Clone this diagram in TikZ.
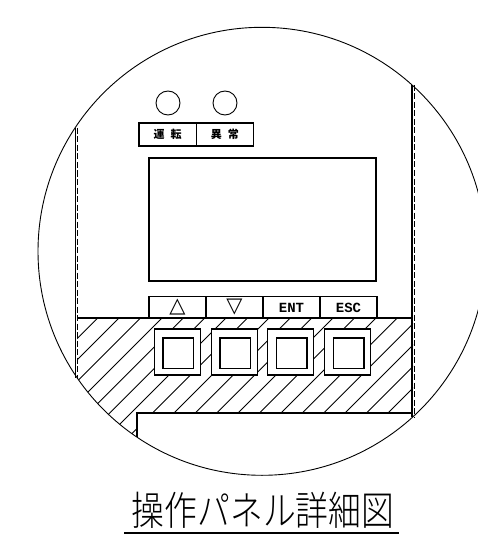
\documentclass[tikz,border=0pt]{standalone}
\usepackage{fontspec}
\usetikzlibrary{positioning}
\newfontfamily\cjkthin[FakeStretch=0.82,UprightFont=* Light]{Noto Sans CJK JP}
\newfontfamily\cjk{Noto Sans CJK JP}
\newfontfamily\symb{DejaVu Sans}
\setmonofont{Liberation Mono}

\begin{document}
\begin{tikzpicture}[
        x=1pt, y=-1pt, line width=1.1pt,
        dashwall/.style = {line width=1pt, dash pattern=on 6pt off 2.5pt},
        lamp/.style   = {draw, circle, inner sep=0pt, minimum size=24pt, line width=.9pt},
        tag/.style    = {draw, inner sep=0pt, outer sep=0pt, minimum height=23pt, minimum width=57.3pt, font=\cjk\fontsize{11}{11}\selectfont\bfseries},
        key/.style    = {draw, inner sep=0pt, outer sep=0pt, minimum height=21.5pt, minimum width=57pt},
        btn/.style    = {draw, fill=white, inner sep=0pt, minimum size=46pt, line width=1.2pt},
        btncap/.style = {draw, inner sep=0pt, minimum size=30.5pt, line width=1.5pt},
        title/.style  = {inner sep=0pt, font=\cjkthin\fontsize{40}{40}\selectfont}]

    \useasboundingbox (0,0) rectangle (477,540);

    % hatching of the lower panel
    \begin{scope}
        \clip (262,251.3) circle (224);
        \clip (77,318) rectangle (413,413) (77,413) rectangle (137,480);
        \foreach \value in {0,...,18}
            \draw[line width=.9pt] ({415.7+21.4*\value-50},50) -- ({415.7+21.4*\value-500},500);
    \end{scope}

    % outline and side walls
    \draw[line width=.9pt] (262,251.3) circle (224);
    \draw[line width=1.2pt] (75.7,128) -- (75.7,378);
    \draw[dashwall] (77.7,128) -- (77.7,378);
    \draw[line width=1.2pt] (412,85) -- (412,417);
    \draw[dashwall] (414,85) -- (414,417);
    \draw (137,436.5) -- (137,413) -- (413,413);
    \draw (77,318) -- (413,318);

    % lamps and their tags
    \node[lamp] (lamp1) at (168,103) {};
    \node[lamp] (lamp2) at (225,103) {};
    \node[tag] (tag1) at (167.6,134.5) {運\hspace{6pt}転};
    \node[tag, right=0pt of tag1] (tag2) {異\hspace{6pt}常};

    % display
    \node[draw, inner sep=0pt, minimum width=227pt, minimum height=123pt, line width=1.4pt] (display) at (262.5,219.5) {};

    % key labels
    \node[key] (key1) at (177.5,307.5) {\symb\fontsize{21}{21}\selectfont △};
    \node[key, right=0pt of key1] (key2) {\symb\fontsize{21}{21}\selectfont ▽};
    \node[key, right=0pt of key2] (key3) {\ttfamily\bfseries\fontsize{14}{14}\selectfont ENT};
    \node[key, right=0pt of key3] (key4) {\ttfamily\bfseries\fontsize{14}{14}\selectfont ESC};

    % push buttons
    \foreach \value/\pos in {1/177.3,2/234.3,3/290.8,4/347.8} {
        \node[btn] (btn\value) at (\pos,352) {};
        \node[btncap] (cap\value) at (\pos+.8,353) {};
    }

    % title
    \node[title] (caption) at (263,510) {操作パネル詳細図};
    \draw (124,533) -- (399,533);
\end{tikzpicture}
\end{document}
